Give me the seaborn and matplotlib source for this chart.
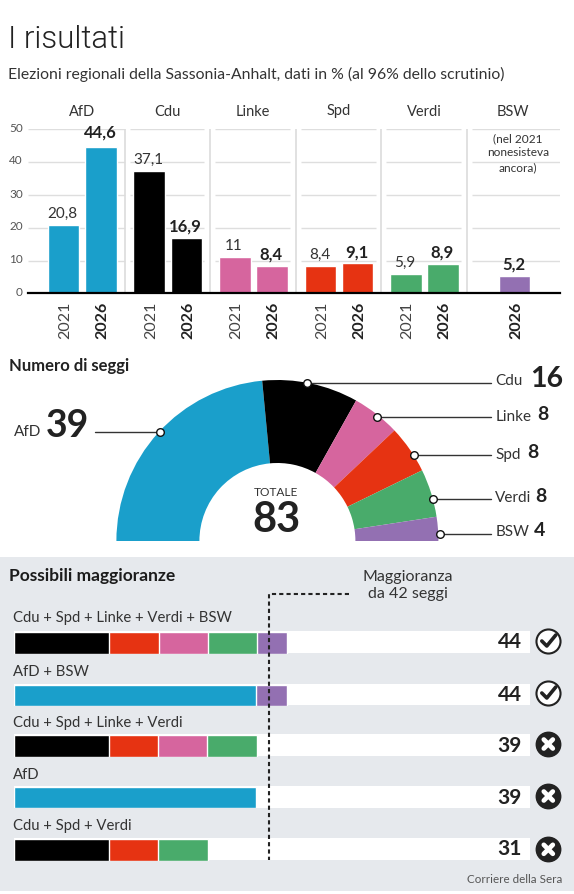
import matplotlib
matplotlib.use("Agg")
import matplotlib.pyplot as plt
from matplotlib.patches import Rectangle
from matplotlib.transforms import ScaledTranslation
import pandas as pd
import seaborn as sns

# ---------- data ----------
parties = ["AfD", "Cdu", "Linke", "Spd", "Verdi", "BSW"]
votes_2021 = [20.8, 37.1, 11, 8.4, 5.9, None]
votes_2026 = [44.6, 16.9, 8.4, 9.1, 8.9, 5.2]
seats = [39, 16, 8, 8, 8, 4]
total_seats = 83
yticks = [0, 10, 20, 30, 40, 50]

coalitions = ["Cdu + Spd + Linke + Verdi + BSW", "AfD + BSW", "Cdu + Spd + Linke + Verdi", "AfD", "Cdu + Spd + Verdi"]
coalition_parts = [
    ["Cdu", "Spd", "Linke", "Verdi", "BSW"],
    ["AfD", "BSW"],
    ["Cdu", "Spd", "Linke", "Verdi"],
    ["AfD"],
    ["Cdu", "Spd", "Verdi"],
]
# segment lengths as drawn in the picture (seats)
coalition_lengths = [
    [15.36, 7.95, 7.83, 7.95, 4.83],
    [38.96, 4.95],
    [15.3, 7.88, 7.88, 8.0],
    [38.96],
    [15.36, 7.83, 8.0],
]
coalition_totals = [44, 44, 39, 39, 31]
majority_reached = [True, True, False, False, False]

colors = {"AfD": "#1a9fcb", "Cdu": "#000000", "Linke": "#d6659e",
          "Spd": "#e63312", "Verdi": "#49ab6b", "BSW": "#9370b2"}

# ---------- set-up ----------
sns.set_theme(style="white")
plt.rcParams["font.family"] = ["Lato", "DejaVu Sans"]
W, H = 574, 894
fig = plt.figure(figsize=(W / 100, H / 100), dpi=100, facecolor="white")
TXT = "#2b2b2b"


def px_axes(x, y, w, h, zorder=1):
    ax = fig.add_axes([x / W, 1 - (y + h) / H, w / W, h / H], zorder=zorder)
    ax.patch.set_visible(False)
    return ax


# background panel
bg = px_axes(0, 0, W, H, zorder=0)
bg.set_xlim(0, W); bg.set_ylim(H, 0); bg.axis("off")
bg.add_patch(Rectangle((0, 557), W, 334, color="#e6e9ed", lw=0))

# ---------- top bar chart ----------
X0, X1, Y50, Y0 = 27.5, 560, 129, 293.4
ax = px_axes(X0, Y50, X1 - X0, Y0 - Y50, zorder=2)
rows = []
for g, p in enumerate(parties):
    if votes_2021[g] is not None:
        rows.append((p, "2021", 63.65 + 85.6 * g, votes_2021[g]))
        rows.append((p, "2026", 100.85 + 85.6 * g, votes_2026[g]))
    else:
        rows.append((p, "2026", 514.6, votes_2026[g]))
bars = pd.DataFrame(rows, columns=["party", "year", "pos", "value"])

for a, b in [(27.5, 124.5), (129.6, 204.2), (214.9, 290.3), (300.9, 375.9), (385.8, 461.2), (471.5, 560)]:
    ax.hlines(yticks[1:], a, b, color="#dedede", lw=1, zorder=0)
ax.vlines([124.5, 209.7, 295.8, 381.4, 466.7], 0, 50, color="#dcdcdc", lw=1.2, zorder=0)

sns.barplot(data=bars, x="pos", y="value", hue="party", palette=colors, dodge=False,
            native_scale=True, width=31.4 / 37, saturation=1, legend=False, ax=ax, zorder=2)
ax.set_xlim(X0, X1); ax.set_ylim(0, 50)
ax.set_xlabel(""); ax.set_ylabel("")
sns.despine(ax=ax, left=True, top=True, right=True)
ax.spines["bottom"].set_linewidth(1.6)
ax.spines["bottom"].set_color("black")
ax.set_xticks(bars["pos"], bars["year"], rotation=90)
ax.tick_params(axis="x", length=0, pad=6)
shift = ScaledTranslation(1.5 / 100, 0, fig.dpi_scale_trans)
for lab, yr in zip(ax.get_xticklabels(), bars["year"]):
    lab.set_fontsize(11.5)
    lab.set_fontweight("bold" if yr == "2026" else "normal")
    lab.set_color("#222222" if yr == "2026" else "#444444")
    lab.set_transform(lab.get_transform() + shift)
ax.set_yticks([])
for _, r in bars.iterrows():
    v = r["value"]
    bold = r["year"] == "2026"
    pad = 14 if v == max(votes_2026) else 11.3
    ax.annotate(f"{v:g}".replace(".", ","), (r["pos"] - 1, v), xytext=(0, pad * 0.72),
                textcoords="offset points", ha="center", va="center",
                fontsize=12 if bold else 11, fontweight="bold" if bold else "normal",
                color="#222222" if bold else "#333333", annotation_clip=False, zorder=5)

# ---------- semicircle ----------
R = 161
pie = px_axes(277.4 - R, 541 - R, 2 * R, 2 * R, zorder=2)
wedges, _ = pie.pie(seats + [total_seats], colors=[colors[p] for p in parties] + ["white"],
                    startangle=180, counterclock=False, radius=1,
                    wedgeprops={"width": 1 - 78 / R, "linewidth": 0})
wedges[-1].set_visible(False)
pie.set_xlim(-1, 1); pie.set_ylim(-1, 1)

# ---------- coalition rows ----------
track_tops = [631.3, 684, 734.3, 786.3, 838.3]
seg_tops = [632.3, 685, 735.3, 787, 839.3]
for name, parts, lengths, tt, st in zip(coalitions, coalition_parts, coalition_lengths, track_tops, seg_tops):
    t = px_axes(13.9, tt, 516.5, 21.3, zorder=2)
    sns.barplot(x=[total_seats], y=[name], color="white", width=1, saturation=1, ax=t)
    t.set_xlim(0, total_seats); t.set_ylim(0.5, -0.5); t.axis("off")
    s = px_axes(13.9, st, 516.5, 21.3, zorder=3)
    cum, c = [], 0
    for v in lengths:
        c += v
        cum.append(c)
    d = pd.DataFrame({"coalition": name, "party": parts, "cum": cum})
    sns.barplot(data=d, x="cum", y="coalition", hue="party", hue_order=parts[::-1], palette=colors,
                dodge=False, width=1, saturation=1, legend=False, ax=s)
    s.set_xlim(0, total_seats); s.set_ylim(0.5, -0.5); s.axis("off")

# ---------- overlay: text and annotations ----------
o = px_axes(0, 0, W, H, zorder=6)
o.set_xlim(0, W); o.set_ylim(H, 0); o.axis("off")


def T(x, y, s, size=11, weight="normal", color=TXT, ha="left", va="center", **kw):
    return o.text(x, y + 1, s, fontsize=size, fontweight=weight, color=color, ha=ha, va=va, **kw)


T(8, 39, "I risultati", 22.5, 300, "#222222", family=["Roboto", "DejaVu Sans"])
T(8, 73, "Elezioni regionali della Sassonia-Anhalt, dati in % (al 96% dello scrutinio)", 11.3, color="#333333")

for p, x in zip(parties, [81.6, 167.3, 253.3, 338.6, 424.6, 512.4]):
    T(x, 110.5, p, 10.5, ha="center", color="#333333")
for v, y in zip(yticks, [291, 258.5, 226, 193, 160, 127]):
    T(22.7, y, str(v), 8.5, ha="right", color="#555555")
for s, y in zip(["(nel 2021", "nonesisteva", "ancora)"], [137.7, 152, 166.7]):
    T(518, y, s, 8.6, ha="center", color="#333333")

T(8.8, 365, "Numero di seggi", 12, "bold", "#222222")

# leader lines
lines = [(307, 382.7, 490.5), (377, 416.7, 490.5), (414.4, 455.3, 490.5),
         (433, 498.7, 490.5), (440, 534.3, 490.5), (159.6, 431.7, 95.2)]
for x, y, xe in lines:
    o.plot([x, xe], [y, y], color="#333333", lw=1, zorder=3)
    o.scatter([x], [y], s=30, facecolor="white", edgecolor="#111111", lw=1, zorder=4)

for i, (x, y, xn, fs) in enumerate([(495, 380, 530, 20.5), (495.3, 416, 537.5, 14), (495, 454, 527.5, 14),
                                    (495, 497.3, 535, 14), (495.3, 531, 533.5, 14)]):
    T(x, y, parties[i + 1], 11, color="#333333")
    T(xn, y - 2, str(seats[i + 1]), fs, "bold", "#222222")
T(13.5, 431, "AfD", 11, color="#333333")
T(45.8, 425, str(seats[0]), 27, "bold", "#222222")
T(276, 491, "TOTALE", 8.6, ha="center", color="#333333")
T(277, 519, str(total_seats), 30, "bold", "#222222", ha="center")

# majority panel
T(9, 575, "Possibili maggioranze", 12.5, "bold", "#1c1c1c")
T(407.8, 575.7, "Maggioranza", 11.5, ha="center", color="#333333")
T(407.8, 593, "da 42 seggi", 11.5, ha="center", color="#333333")
o.plot([348.5, 269, 269], [594, 594, 860.3], color="#222222", lw=1.5, ls=(0, (2, 1.5)), zorder=3)

for name, y in zip(coalitions, [617.3, 671.3, 721.7, 774.3, 825]):
    T(13, y, name, 10.7, color="#333333")
for v, y in zip(coalition_totals, [640.7, 694, 744.7, 797, 848.3]):
    T(521.6, y, str(v), 15, "bold", "#222222", ha="right")
for ok, y in zip(majority_reached, [641, 693, 744, 796, 849.3]):
    cx = 548.3
    if ok:
        o.scatter([cx], [y], s=300, facecolor="white", edgecolor="#222222", lw=1.5, zorder=3)
        o.plot([cx - 6.5, cx - 1.5, cx + 7.5], [y, y + 5, y - 6], color="#222222", lw=2.6,
               solid_capstyle="round", zorder=4)
    else:
        o.scatter([cx], [y], s=310, facecolor="#222222", edgecolor="#222222", lw=1, zorder=3)
        for sgn in (1, -1):
            o.plot([cx - 4.5, cx + 4.5], [y - 4.5 * sgn, y + 4.5 * sgn], color="white", lw=3.4,
                   solid_capstyle="round", zorder=4)

T(562, 878.5, "Corriere della Sera", 8.4, "normal", "#555555", ha="right")

fig.savefig("out.png", dpi=100)
